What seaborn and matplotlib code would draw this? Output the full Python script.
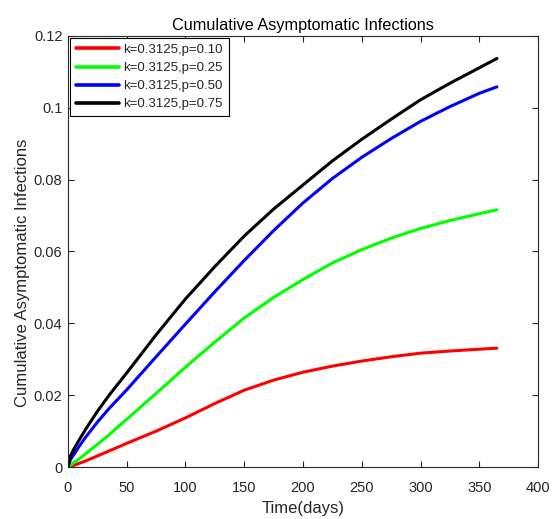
import numpy as np
import pandas as pd
import matplotlib
matplotlib.use('Agg')
import matplotlib.pyplot as plt
import seaborn as sns

# values (days vs cumulative asymptomatic infections)
days = [0, 2, 5, 10, 15, 25, 35, 50, 75, 100, 125, 150, 175, 200, 225, 250, 275, 300, 325, 350, 365]
p010 = [0, 0.0002, 0.0005, 0.0011, 0.0017, 0.0031, 0.0045, 0.0066, 0.0100, 0.0137, 0.0177,
        0.0214, 0.0242, 0.0264, 0.0281, 0.0295, 0.0307, 0.0317, 0.0323, 0.0328, 0.0331]
p025 = [0, 0.0005, 0.0012, 0.0024, 0.0037, 0.0063, 0.0090, 0.0133, 0.0205, 0.0278, 0.0348,
        0.0415, 0.0472, 0.0522, 0.0568, 0.0605, 0.0637, 0.0664, 0.0686, 0.0705, 0.0716]
p050 = [0, 0.0020, 0.0035, 0.0060, 0.0083, 0.0125, 0.0163, 0.0215, 0.0307, 0.0398, 0.0488,
        0.0575, 0.0658, 0.0735, 0.0803, 0.0862, 0.0914, 0.0962, 0.1003, 0.1040, 0.1058]
p075 = [0, 0.0030, 0.0050, 0.0078, 0.0105, 0.0155, 0.0200, 0.0262, 0.0368, 0.0468, 0.0558,
        0.0643, 0.0718, 0.0785, 0.0852, 0.0912, 0.0968, 0.1022, 0.1068, 0.1111, 0.1137]
labels = ['k=0.3125,p=0.10', 'k=0.3125,p=0.25', 'k=0.3125,p=0.50', 'k=0.3125,p=0.75']
colors = ['#ff0000', '#00ff00', '#0000ff', '#000000']
xticks = [0, 50, 100, 150, 200, 250, 300, 350, 400]
yticks = [0, 0.02, 0.04, 0.06, 0.08, 0.1, 0.12]
ytick_labels = ['0', '0.02', '0.04', '0.06', '0.08', '0.1', '0.12']

frames = []
for lab, vals in zip(labels, [p010, p025, p050, p075]):
    frames.append(pd.DataFrame({'day': days, 'value': vals, 'series': lab}))
df = pd.concat(frames, ignore_index=True)

sns.set_style('ticks')
plt.rcParams['font.family'] = ['Liberation Sans', 'DejaVu Sans']
ink = '#262626'

fig = plt.figure(figsize=(5.57, 5.19), dpi=100)
ax = fig.add_axes([0.122, 0.100, 0.844, 0.831])

sns.lineplot(data=df, x='day', y='value', hue='series', palette=colors,
             linewidth=2.2, ax=ax, sort=False)

ax.set_xlim(0, 400)
ax.set_ylim(0, 0.12)
ax.set_xticks(xticks)
ax.set_xticklabels([str(t) for t in xticks])
ax.set_yticks(yticks)
ax.set_yticklabels(ytick_labels)
ax.tick_params(direction='in', top=True, right=True, length=4, width=0.8,
               labelsize=10.5, colors=ink)
ax.tick_params(axis='x', pad=10)
ax.tick_params(axis='y', pad=4)
for s in ax.spines.values():
    s.set_color(ink)
    s.set_linewidth(0.8)

ax.set_xlabel('Time(days)', fontsize=12, color=ink, labelpad=4)
ax.set_ylabel('Cumulative Asymptomatic Infections', fontsize=12, color=ink)
ax.yaxis.set_label_coords(-0.081, 0.45)
ax.set_title('Cumulative Asymptomatic Infections', fontsize=11.7, color='black', pad=4)

leg = ax.legend(loc='upper left', fontsize=9.5, handlelength=3.3, handletextpad=0.3,
                borderaxespad=0.15, borderpad=0.45, labelspacing=0.45, fancybox=False,
                framealpha=1, edgecolor='black', title=None)
leg.get_frame().set_linewidth(0.8)
for h in leg.get_lines():
    h.set_linewidth(2.6)

plt.savefig('out.png', dpi=100)
